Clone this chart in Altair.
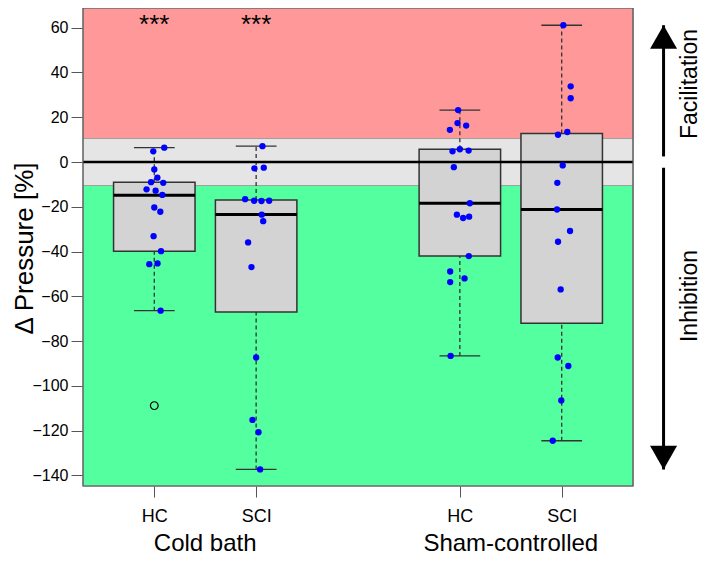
import altair as alt
import pandas as pd

FONT = "Liberation Sans"

# ---- data ----
tick_pos = [1, 2, 4, 5]
tick_labels = ["HC", "SCI", "HC", "SCI"]
group_names = ["Cold bath", "Sham-controlled"]
group_centers = [1.5, 4.5]

cold_hc_vals = [6.4, 4.8, -3.3, -7.0, -9.0, -9.3, -12.2, -12.8, -14.7, -20.3, -22.2, -33.1, -39.8, -45.6, -45.3, -66.4]
cold_hc_off = [0.098, -0.010, 0.0, 0.030, -0.032, 0.088, -0.076, 0.013, 0.079, 0.0, 0.059, -0.007, 0.066, -0.049, 0.032, 0.062]

cold_sci_vals = [7.1, -2.8, -2.5, -16.6, -17.3, -17.4, -17.3, -23.5, -26.4, -35.9, -46.9, -87.3, -115.2, -120.7, -137.3]
cold_sci_off = [0.062, -0.017, 0.075, -0.108, -0.020, 0.052, 0.128, 0.055, 0.069, -0.079, -0.046, 0.0, -0.036, 0.023, 0.039]

sham_hc_vals = [23.2, 17.4, 16.3, 14.4, 5.7, 4.8, 5.1, -2.3, -18.4, -23.5, -25.0, -24.4, -42.0, -48.9, -53.6, -52.0, -86.6]
sham_hc_off = [-0.017, -0.023, 0.062, -0.098, 0.0, -0.072, 0.086, -0.059, 0.098, -0.029, 0.032, 0.091, 0.088, -0.095, -0.095, 0.046, -0.091]

sham_sci_vals = [61.1, 33.8, 28.5, 13.4, 12.2, -1.5, -9.3, -21.2, -30.8, -35.6, -56.9, -87.3, -91.1, -106.5, -124.5]
sham_sci_off = [0.016, 0.088, 0.088, 0.055, -0.036, 0.010, -0.043, -0.046, 0.082, -0.036, -0.010, -0.039, 0.065, -0.004, -0.088]

box_pos = [1, 2, 4, 5]
whisk_lo = [-66.4, -137.3, -86.6, -124.5]
box_q1 = [-39.8, -67.0, -42.0, -72.0]
box_med = [-14.8, -23.4, -18.4, -21.2]
box_q3 = [-9.0, -17.0, 5.7, 12.8]
whisk_hi = [6.4, 7.1, 23.2, 61.1]

outlier_pos = [1]
outlier_val = [-108.8]

star_pos = [1, 2]
star_text = ["***", "***"]
star_y = [57.6, 57.6]

band_lo = [10.5, -10.5, -144.7]
band_hi = [68.8, 10.5, -10.5]
band_color = ["#FF9999", "#E5E5E5", "#54FF9F"]

x_domain = [0.3, 5.7]
y_domain = [-144.7, 68.8]
y_ticks = [-140, -120, -100, -80, -60, -40, -20, 0, 20, 40, 60]

arrow_x = [6, 6]
arrow_from = [2.5, -2.5]
arrow_to = [61.1, -137.3]

side_names = ["Facilitation", "Inhibition"]

# ---- tables ----
pts = pd.DataFrame({
    "pos": [1] * len(cold_hc_vals) + [2] * len(cold_sci_vals) + [4] * len(sham_hc_vals) + [5] * len(sham_sci_vals),
    "val": cold_hc_vals + cold_sci_vals + sham_hc_vals + sham_sci_vals,
    "off": cold_hc_off + cold_sci_off + sham_hc_off + sham_sci_off,
})
boxes = pd.DataFrame({"pos": box_pos, "lo": whisk_lo, "q1": box_q1, "med": box_med, "q3": box_q3, "hi": whisk_hi})
bands = pd.DataFrame({"lo": band_lo, "hi": band_hi, "color": band_color,
                      "x1": [x_domain[0]] * 3, "x2": [x_domain[1]] * 3})
frame = pd.DataFrame({"x1": [x_domain[0]], "x2": [x_domain[1]], "lo": [y_domain[0]], "hi": [y_domain[1]]})
zero = pd.DataFrame({"x1": [x_domain[0]], "x2": [x_domain[1]], "y": [0]})
outl = pd.DataFrame({"pos": outlier_pos, "val": outlier_val})
stars = pd.DataFrame({"pos": star_pos, "txt": star_text, "y": star_y})
groups = pd.DataFrame({"x": group_centers, "name": group_names})
arrows = pd.DataFrame({"x": arrow_x, "y1": arrow_from, "y2": arrow_to})

xs = alt.Scale(domain=x_domain, nice=False, zero=False)
ys = alt.Scale(domain=y_domain, nice=False, zero=False)

x_axis = alt.Axis(values=tick_pos, labelExpr="(datum.value == 1 || datum.value == 4) ? 'HC' : 'SCI'",
                  title=None, grid=False, domain=False, tickSize=11, tickColor="#555555",
                  labelFontSize=18, labelPadding=10, labelFont=FONT, labelColor="#000000")
y_axis = alt.Axis(values=y_ticks, title="Δ Pressure [%]", grid=False, domain=False, tickSize=12,
                  tickColor="#555555", labelFontSize=16, labelPadding=3, labelFont=FONT,
                  labelColor="#000000", titleFont=FONT, titleFontSize=26, titleFontWeight="normal",
                  titleX=-51, titleY=240, titleAngle=270, titleBaseline="alphabetic",
                  titleAlign="center", titleColor="#000000")

band_layer = alt.Chart(bands).mark_rect(stroke="#A0A0A0", strokeWidth=1).encode(
    x=alt.X("x1:Q", scale=xs, axis=x_axis), x2="x2",
    y=alt.Y("lo:Q", scale=ys, axis=y_axis), y2="hi",
    color=alt.Color("color:N", scale=None, legend=None),
)

box_base = alt.Chart(boxes).transform_calculate(
    bx1="datum.pos - 0.4", bx2="datum.pos + 0.4", cx1="datum.pos - 0.2", cx2="datum.pos + 0.2"
)
whisk_up = box_base.mark_rule(color="#333333", strokeDash=[4, 3], strokeWidth=1.3).encode(
    x="pos:Q", y="q3:Q", y2="hi")
whisk_dn = box_base.mark_rule(color="#333333", strokeDash=[4, 3], strokeWidth=1.3).encode(
    x="pos:Q", y="lo:Q", y2="q1")
cap_hi = box_base.mark_rule(color="#333333", strokeWidth=1.3).encode(x="cx1:Q", x2="cx2:Q", y="hi:Q")
cap_lo = box_base.mark_rule(color="#333333", strokeWidth=1.3).encode(x="cx1:Q", x2="cx2:Q", y="lo:Q")
box_rect = box_base.mark_rect(fill="#D3D3D3", stroke="#333333", strokeWidth=1.5).encode(
    x="bx1:Q", x2="bx2:Q", y="q1:Q", y2="q3")
med = box_base.mark_rule(color="#000000", strokeWidth=3).encode(x="bx1:Q", x2="bx2:Q", y="med:Q")

zero_line = alt.Chart(zero).mark_rule(color="#000000", strokeWidth=2.5).encode(
    x="x1:Q", x2="x2:Q", y="y:Q")

points = alt.Chart(pts).transform_calculate(px="datum.pos + datum.off").mark_circle(
    color="#0000FF", opacity=1, size=40).encode(x="px:Q", y="val:Q")

outlier = alt.Chart(outl).mark_point(shape="circle", filled=False, color="#000000", size=60,
                                     strokeWidth=1.2, opacity=1).encode(x="pos:Q", y="val:Q")

star_layer = alt.Chart(stars).mark_text(font=FONT, fontSize=26, baseline="alphabetic", align="center",
                                        color="#000000").encode(x="pos:Q", y="y:Q", text="txt:N")

border = alt.Chart(frame).mark_rect(fillOpacity=0, stroke="#555555", strokeWidth=1.2).encode(
    x="x1:Q", x2="x2:Q", y="lo:Q", y2="hi")

group_layer = alt.Chart(groups).mark_text(font=FONT, fontSize=24, baseline="alphabetic", align="center",
                                          color="#000000").encode(x="x:Q", y=alt.value(543), text="name:N")

shaft = alt.Chart(arrows).mark_rule(color="#000000", strokeWidth=3).encode(x="x:Q", y="y1:Q", y2="y2")
head_up = alt.Chart(arrows).transform_filter("datum.y2 > 0").mark_point(
    shape="M0,0L-1,1.75L1,1.75Z", filled=True, size=729, color="#000000", opacity=1, strokeWidth=0
).encode(x="x:Q", y="y2:Q")
head_dn = alt.Chart(arrows).transform_filter("datum.y2 < 0").mark_point(
    shape="M0,0L-1,-1.75L1,-1.75Z", filled=True, size=729, color="#000000", opacity=1, strokeWidth=0
).encode(x="x:Q", y="y2:Q")

side_fac = alt.Chart(pd.DataFrame({"t": [side_names[0]]})).mark_text(
    font=FONT, fontSize=23, angle=270, align="center", baseline="alphabetic", color="#000000"
).encode(x=alt.value(614), y=alt.value(76), text="t:N")
side_inh = alt.Chart(pd.DataFrame({"t": [side_names[1]]})).mark_text(
    font=FONT, fontSize=23, angle=270, align="center", baseline="alphabetic", color="#000000"
).encode(x=alt.value(614), y=alt.value(288), text="t:N")

chart = alt.layer(
    band_layer, whisk_up, whisk_dn, cap_hi, cap_lo, box_rect, med, zero_line,
    points, outlier, star_layer, border, group_layer, shaft, head_up, head_dn, side_fac, side_inh,
).properties(
    width=550, height=478,
    autosize=alt.AutoSizeParams(type="none"),
    padding={"left": 75, "top": 0, "right": 68, "bottom": 72},
).configure_view(stroke=None).configure(background="#FFFFFF")

chart.save("out.html", embed_options={"renderer": "svg", "actions": False})
